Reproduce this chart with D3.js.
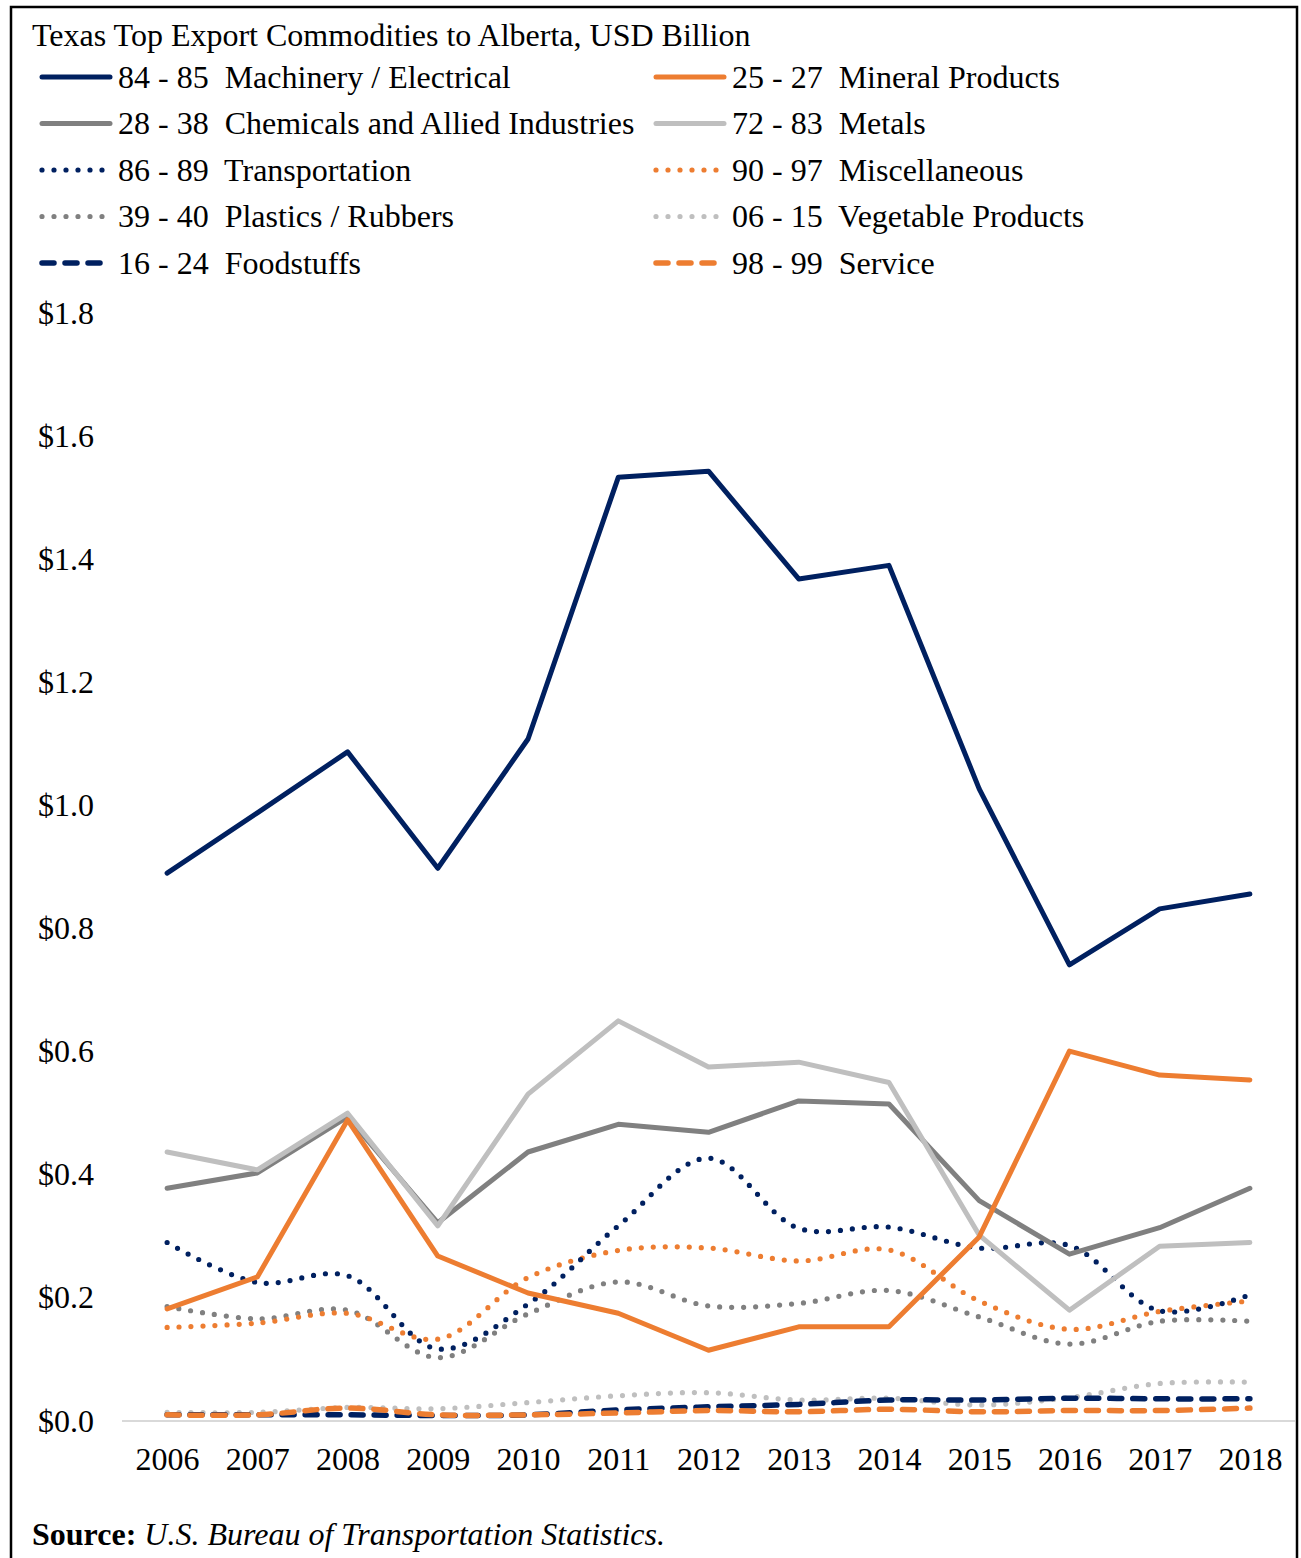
<!DOCTYPE html>
<html lang="en">
<head>
<meta charset="UTF-8">
<title>Texas Top Export Commodities to Alberta</title>
<style>
  body { margin:0; background:#fff; }
  svg { display:block; }
  text { font-family: "Liberation Serif", "Times New Roman", serif; fill:#000; white-space: pre; }
</style>
</head>
<body>
<svg width="1301" height="1558"></svg>
<script src="https://cdnjs.cloudflare.com/ajax/libs/d3/7.8.5/d3.min.js"></script>
<script>
// data (USD billion)
const years = [2006, 2007, 2008, 2009, 2010, 2011, 2012, 2013, 2014, 2015, 2016, 2017, 2018];
const yTicks = [0, 0.2, 0.4, 0.6, 0.8, 1.0, 1.2, 1.4, 1.6, 1.8];

const machinery      = [0.890, 0.988, 1.087, 0.898, 1.108, 1.533, 1.543, 1.368, 1.390, 1.027, 0.741, 0.832, 0.856];
const mineral        = [0.182, 0.234, 0.489, 0.268, 0.208, 0.175, 0.115, 0.153, 0.153, 0.299, 0.601, 0.562, 0.554];
const chemicals      = [0.378, 0.403, 0.494, 0.322, 0.437, 0.482, 0.469, 0.520, 0.515, 0.358, 0.271, 0.314, 0.378];
const metals         = [0.437, 0.408, 0.500, 0.317, 0.531, 0.650, 0.575, 0.583, 0.550, 0.302, 0.180, 0.284, 0.290];
const transportation = [0.290, 0.225, 0.236, 0.117, 0.190, 0.317, 0.427, 0.313, 0.315, 0.281, 0.285, 0.179, 0.205];
const miscellaneous  = [0.152, 0.159, 0.175, 0.133, 0.233, 0.277, 0.281, 0.260, 0.278, 0.195, 0.149, 0.178, 0.195];
const plastics       = [0.186, 0.166, 0.180, 0.103, 0.174, 0.226, 0.187, 0.191, 0.212, 0.169, 0.125, 0.162, 0.162];
const vegetable      = [0.014, 0.014, 0.022, 0.020, 0.030, 0.041, 0.046, 0.034, 0.037, 0.026, 0.038, 0.061, 0.063];
const foodstuffs     = [0.010, 0.010, 0.010, 0.009, 0.010, 0.018, 0.023, 0.027, 0.034, 0.034, 0.037, 0.036, 0.036];
const service        = [0.010, 0.010, 0.021, 0.010, 0.010, 0.013, 0.017, 0.015, 0.019, 0.015, 0.017, 0.017, 0.021];

const codes = ["84 - 85", "25 - 27", "28 - 38", "72 - 83", "86 - 89", "90 - 97", "39 - 40", "06 - 15", "16 - 24", "98 - 99"];
const names = ["Machinery / Electrical", "Mineral Products", "Chemicals and Allied Industries", "Metals",
               "Transportation", "Miscellaneous", "Plastics / Rubbers", "Vegetable Products", "Foodstuffs", "Service"];
const values = [machinery, mineral, chemicals, metals, transportation, miscellaneous, plastics, vegetable, foodstuffs, service];

// styles
const navy = "#002060", orange = "#ED7D31", dgray = "#808080", lgray = "#BFBFBF";
const colors = [navy, orange, dgray, lgray, navy, orange, dgray, lgray, navy, orange];
const kinds  = ["solid", "solid", "solid", "solid", "dot", "dot", "dot", "dot", "dash", "dash"];
const drawOrder = [7, 6, 5, 4, 8, 9, 2, 3, 1, 0];

const series = names.map((n, i) => ({ name: n, code: codes[i], color: colors[i], kind: kinds[i],
  points: years.map((yr, j) => ({ year: yr, v: values[i][j] })) }));

const svg = d3.select("svg");
const fs = 32;

function applyStroke(sel, s) {
  sel.attr("fill", "none").attr("stroke", s.color);
  if (s.kind === "solid") sel.attr("stroke-width", 5).attr("stroke-linecap", "round").attr("stroke-linejoin", "round");
  if (s.kind === "dot") sel.attr("stroke-width", 5.2).attr("stroke-dasharray", "0 12").attr("stroke-linecap", "round");
  if (s.kind === "dash") sel.attr("stroke-width", 5.5).attr("stroke-dasharray", "12 11").attr("stroke-linecap", "round");
  return sel;
}

// frame
svg.append("rect").attr("x", 11).attr("y", 7).attr("width", 1286).attr("height", 1600)
  .attr("fill", "none").attr("stroke", "#000").attr("stroke-width", 2.5);

// title
svg.append("text").attr("x", 32).attr("y", 46).style("font-size", fs + "px")
  .text("Texas Top Export Commodities to Alberta, USD Billion");

// legend
const legend = svg.append("g");
series.forEach((s, i) => {
  const col = i % 2, row = Math.floor(i / 2);
  const x0 = col === 0 ? 42 : 656;
  const cy = 77 + row * 46.5;
  applyStroke(legend.append("line").attr("x1", x0).attr("x2", x0 + (s.kind === "solid" ? 68 : 64))
    .attr("y1", cy).attr("y2", cy), s);
  legend.append("text").attr("x", x0 + 76).attr("y", cy + 10.5).style("font-size", fs + "px")
    .text(s.code + "  " + s.name);
});

// scales
const x = d3.scalePoint().domain(years).range([122, 1295]).padding(0.5);
const y = d3.scaleLinear().domain([0, 1.8]).range([1421, 313]);

// y tick labels
svg.append("g").selectAll("text").data(yTicks).join("text")
  .attr("x", 38).attr("y", d => y(d) + 10.5).style("font-size", fs + "px")
  .text(d => "$" + d3.format(".1f")(d));

// x axis
const xAxis = svg.append("g").attr("transform", "translate(0,1421)")
  .call(d3.axisBottom(x).tickSize(0).tickPadding(26));
xAxis.select(".domain").attr("stroke", "#d9d9d9").attr("stroke-width", 2)
  .attr("d", "M122,0H1295");
xAxis.selectAll("text").style("font-size", fs + "px")
  .style("font-family", "'Liberation Serif', 'Times New Roman', serif").attr("fill", "#000");

// lines
const straight = d3.line().x(d => x(d.year)).y(d => y(d.v));
const smooth = d3.line().x(d => x(d.year)).y(d => y(d.v)).curve(d3.curveCatmullRom);
const plot = svg.append("g");
drawOrder.forEach(i => {
  const s = series[i];
  applyStroke(plot.append("path").attr("d", (s.kind === "solid" ? straight : smooth)(s.points)), s);
});

// source
const src = svg.append("text").attr("x", 32).attr("y", 1545).style("font-size", fs + "px");
src.append("tspan").style("font-weight", "bold").text("Source:");
src.append("tspan").style("font-style", "italic").text(" U.S. Bureau of Transportation Statistics.");
</script>
</body>
</html>
